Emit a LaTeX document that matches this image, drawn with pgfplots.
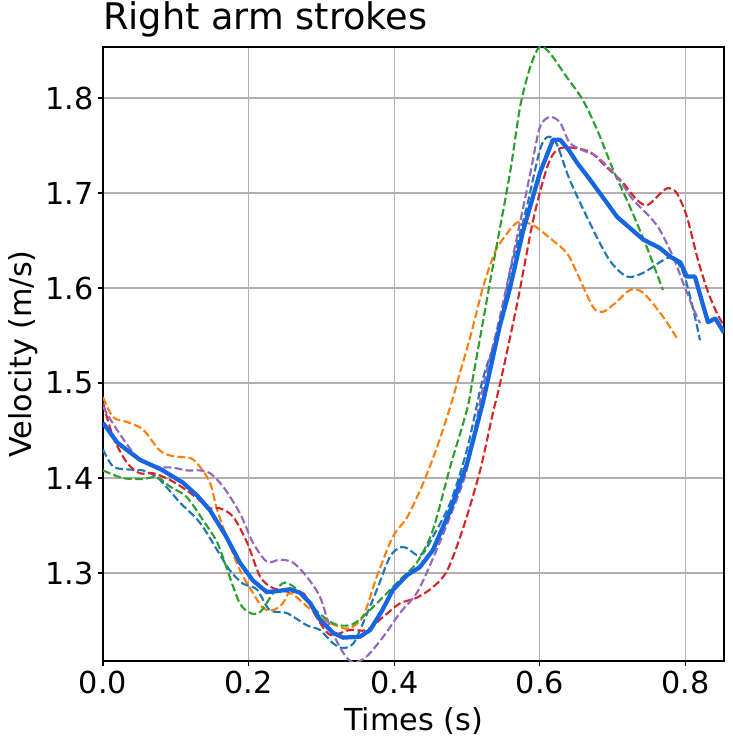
\documentclass[border=0pt]{standalone}
\usepackage{fontspec}
\setmainfont{DejaVu Sans}
\usepackage{pgfplots}
\pgfplotsset{compat=1.18}
\definecolor{tabblue}{HTML}{1F77B4}
\definecolor{taborange}{HTML}{FF7F0E}
\definecolor{tabgreen}{HTML}{2CA02C}
\definecolor{tabred}{HTML}{D62728}
\definecolor{tabpurple}{HTML}{9467BD}
\definecolor{meanblue}{RGB}{22,102,226}
\definecolor{gridgray}{HTML}{B0B0B0}
\begin{document}
\begin{tikzpicture}
\begin{axis}[
 scale only axis, width=465.75pt, height=460.5pt,
 xmin=0, xmax=0.853, ymin=1.2074, ymax=1.8537,
 xtick={0,0.2,0.4,0.6,0.8}, xticklabels={0.0,0.2,0.4,0.6,0.8},
 ytick={1.3,1.4,1.5,1.6,1.7,1.8}, yticklabels={1.3,1.4,1.5,1.6,1.7,1.8},
 grid=major, grid style={color=gridgray, line width=0.83pt},
 axis line style={line width=0.83pt},
 tick align=outside, tick pos=left, major tick length=3.65pt,
 tick style={black, line width=0.83pt},
 ticklabel style={font=\fontsize{22.7}{26}\selectfont},
 /pgf/number format/assume math mode=true,
 xlabel={Times (s)}, ylabel={Velocity (m/s)},
 every axis x label/.style={at={(axis description cs:0.5,0)}, anchor=base, yshift=-51.75pt, font=\fontsize{22.7}{26}\selectfont},
 every axis y label/.style={at={(axis description cs:0,0.5)}, xshift=-53.25pt, rotate=90, anchor=base, font=\fontsize{22.7}{26}\selectfont},
 title={Right arm strokes},
 title style={at={(axis description cs:0,1)}, anchor=base west, inner sep=0pt, yshift=6.75pt, font=\fontsize{27.5}{32}\selectfont},
 clip=true,
 dashstyle/.style={line width=1.6pt, dash pattern=on 5.9pt off 2.5pt, smooth, tension=0.5},
]
\coordinate (A) at (rel axis cs:0,0);
\coordinate (B) at (rel axis cs:1,1);
% tab blue
\addplot[tabblue, dashstyle] coordinates {
(0,1.430)(0.014,1.412)(0.035,1.409)(0.055,1.408)(0.074,1.401)(0.090,1.388)(0.106,1.374)(0.133,1.353)(0.157,1.324)(0.174,1.303)(0.192,1.289)(0.211,1.283)(0.229,1.261)(0.252,1.258)(0.280,1.245)(0.298,1.240)(0.316,1.226)(0.330,1.221)(0.344,1.226)(0.357,1.247)(0.376,1.282)(0.394,1.317)(0.408,1.327)(0.418,1.326)(0.431,1.319)(0.440,1.321)(0.453,1.338)(0.477,1.374)(0.500,1.430)(0.522,1.505)(0.545,1.559)(0.560,1.620)(0.582,1.685)(0.600,1.745)(0.611,1.759)(0.623,1.752)(0.641,1.714)(0.669,1.668)(0.696,1.629)(0.720,1.612)(0.742,1.616)(0.769,1.629)(0.783,1.632)(0.797,1.616)(0.810,1.580)(0.820,1.545)};
% tab orange
\addplot[taborange, dashstyle] coordinates {
(0,1.485)(0.014,1.464)(0.033,1.459)(0.055,1.451)(0.078,1.429)(0.096,1.423)(0.120,1.421)(0.133,1.412)(0.147,1.395)(0.157,1.366)(0.170,1.338)(0.188,1.303)(0.206,1.279)(0.220,1.263)(0.234,1.261)(0.247,1.268)(0.257,1.279)(0.280,1.265)(0.300,1.252)(0.326,1.243)(0.339,1.242)(0.357,1.254)(0.376,1.296)(0.398,1.338)(0.418,1.359)(0.440,1.395)(0.459,1.433)(0.477,1.475)(0.490,1.510)(0.505,1.550)(0.522,1.601)(0.536,1.633)(0.545,1.647)(0.569,1.669)(0.591,1.666)(0.610,1.655)(0.637,1.637)(0.651,1.616)(0.673,1.580)(0.687,1.575)(0.705,1.585)(0.724,1.598)(0.742,1.595)(0.769,1.570)(0.790,1.545)};
% tab green
\addplot[tabgreen, dashstyle] coordinates {
(0,1.408)(0.027,1.400)(0.055,1.399)(0.074,1.401)(0.092,1.391)(0.115,1.380)(0.137,1.356)(0.157,1.332)(0.174,1.296)(0.188,1.268)(0.202,1.258)(0.216,1.259)(0.234,1.279)(0.250,1.290)(0.271,1.280)(0.289,1.263)(0.316,1.247)(0.339,1.245)(0.357,1.254)(0.385,1.275)(0.408,1.293)(0.431,1.311)(0.453,1.345)(0.477,1.412)(0.500,1.472)(0.508,1.505)(0.522,1.565)(0.536,1.625)(0.559,1.721)(0.573,1.791)(0.587,1.833)(0.600,1.854)(0.614,1.847)(0.637,1.822)(0.659,1.798)(0.679,1.766)(0.701,1.724)(0.724,1.685)(0.747,1.643)(0.769,1.598)};
% tab red
\addplot[tabred, dashstyle] coordinates {
(0,1.479)(0.014,1.443)(0.033,1.416)(0.051,1.405)(0.069,1.405)(0.092,1.398)(0.115,1.387)(0.137,1.374)(0.147,1.368)(0.161,1.368)(0.179,1.359)(0.198,1.332)(0.216,1.296)(0.234,1.284)(0.257,1.280)(0.275,1.279)(0.293,1.254)(0.312,1.235)(0.339,1.240)(0.362,1.240)(0.385,1.254)(0.408,1.268)(0.431,1.274)(0.453,1.285)(0.473,1.303)(0.495,1.348)(0.518,1.408)(0.536,1.470)(0.545,1.498)(0.569,1.584)(0.591,1.672)(0.610,1.727)(0.623,1.745)(0.641,1.748)(0.669,1.743)(0.692,1.727)(0.714,1.711)(0.733,1.693)(0.747,1.687)(0.761,1.696)(0.775,1.705)(0.788,1.700)(0.802,1.675)(0.816,1.633)(0.830,1.598)(0.843,1.574)(0.853,1.560)};
% tab purple
\addplot[tabpurple, dashstyle] coordinates {
(0,1.475)(0.019,1.451)(0.047,1.422)(0.074,1.412)(0.096,1.411)(0.115,1.408)(0.133,1.408)(0.147,1.405)(0.165,1.391)(0.188,1.363)(0.206,1.332)(0.225,1.312)(0.243,1.314)(0.261,1.311)(0.280,1.296)(0.298,1.275)(0.312,1.243)(0.330,1.216)(0.344,1.206)(0.362,1.212)(0.385,1.233)(0.408,1.258)(0.431,1.279)(0.453,1.315)(0.477,1.360)(0.500,1.410)(0.522,1.496)(0.545,1.569)(0.569,1.655)(0.587,1.721)(0.600,1.769)(0.614,1.780)(0.628,1.774)(0.641,1.753)(0.659,1.745)(0.679,1.738)(0.706,1.717)(0.728,1.693)(0.751,1.675)(0.765,1.661)(0.783,1.633)(0.797,1.605)(0.810,1.580)(0.820,1.563)};
% mean
\addplot[meanblue, line width=3.2pt, line join=round] coordinates {
(0,1.458)(0.02,1.437)(0.051,1.419)(0.08,1.409)(0.110,1.395)(0.130,1.381)(0.147,1.366)(0.168,1.340)(0.188,1.311)(0.206,1.292)(0.225,1.280)(0.240,1.281)(0.257,1.283)(0.271,1.279)(0.285,1.268)(0.298,1.251)(0.316,1.237)(0.330,1.232)(0.353,1.233)(0.367,1.240)(0.383,1.260)(0.398,1.282)(0.418,1.298)(0.435,1.306)(0.453,1.324)(0.477,1.366)(0.500,1.415)(0.522,1.480)(0.545,1.560)(0.559,1.600)(0.577,1.660)(0.600,1.721)(0.618,1.756)(0.628,1.756)(0.640,1.745)(0.651,1.732)(0.669,1.714)(0.706,1.675)(0.742,1.651)(0.765,1.642)(0.779,1.633)(0.793,1.627)(0.802,1.612)(0.813,1.612)(0.831,1.564)(0.841,1.568)(0.853,1.553)};
\end{axis}
\pgfresetboundingbox
\path ([shift={(-77.25pt,-63.75pt)}]A) rectangle ([shift={(6pt,35.25pt)}]B);
\end{tikzpicture}
\end{document}
